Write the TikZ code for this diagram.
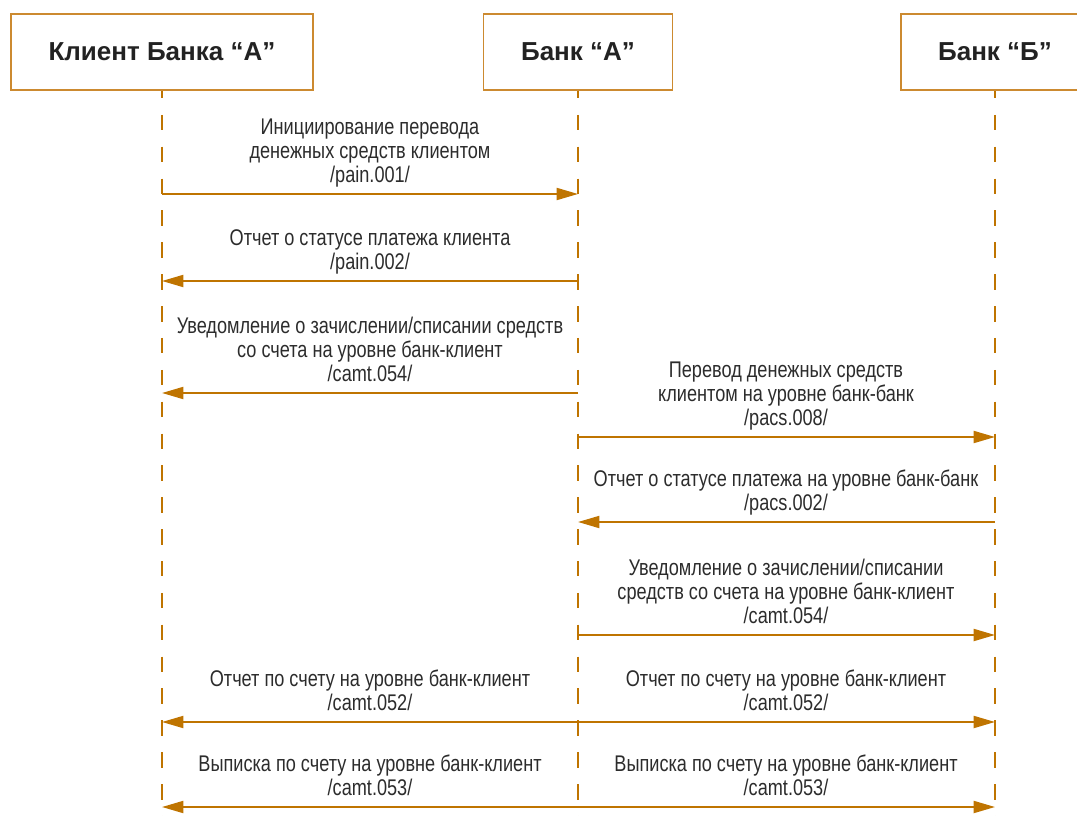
\documentclass[tikz,border=0pt]{standalone}
\usepackage{fontspec}
\setmainfont{Liberation Sans}
\newfontfamily\labfont[FakeStretch=0.8]{Liberation Sans}
\usetikzlibrary{arrows.meta}
\definecolor{ln}{RGB}{191,116,0}
\definecolor{bx}{RGB}{204,138,48}
\definecolor{tx}{RGB}{34,34,34}
\definecolor{lt}{RGB}{44,44,44}
\begin{document}
\begin{tikzpicture}[x=0.75pt,y=-0.75pt,
  box/.style={draw=bx, line width=1.3pt, fill=white, inner sep=0pt, minimum height=57pt,
    font=\fontsize{19.5}{24}\selectfont\bfseries, text=tx},
  life/.style={draw=ln, line width=1.4pt, dash pattern=on 11.6pt off 12.3pt, dash phase=5.9pt},
  msg/.style={draw=ln, line width=1.4pt, -{Triangle[length=16pt,width=9pt]}},
  bimsg/.style={draw=ln, line width=1.4pt, {Triangle[length=16pt,width=9pt]}-{Triangle[length=16pt,width=9pt]}},
  lab/.style={font=\labfont\fontsize{17}{18}\selectfont, text=lt, align=center, anchor=south, inner sep=0pt, text depth=0pt}]
\useasboundingbox (0,0) rectangle (1077,816);
\clip (0,0) rectangle (1077,816);
% headers
\node[box, minimum width=227pt] (ca) at (162,52) {Клиент Банка “А”};
\node[box, minimum width=141.75pt] (ba) at (578,52) {Банк “А”};
\node[box, minimum width=141pt] (bb) at (995,52) {Банк “Б”};
% lifeline ends
\coordinate (bot) at (0,830);
\draw[life] (ca.south) -- (ca.south |- bot);
\draw[life] (ba.south) -- (ba.south |- bot);
\draw[life] (bb.south) -- (bb.south |- bot);
% rows
\coordinate (r1) at (0,194);
\coordinate (r2) at (0,281);
\coordinate (r3) at (0,393);
\coordinate (r4) at (0,437);
\coordinate (r5) at (0,522);
\coordinate (r6) at (0,635);
\coordinate (r7) at (0,722);
\coordinate (r8) at (0,807);
\draw[msg] (ca |- r1) -- (ba |- r1);
\draw[msg] (ba |- r2) -- (ca |- r2);
\draw[msg] (ba |- r3) -- (ca |- r3);
\draw[msg] (ba |- r4) -- (bb |- r4);
\draw[msg] (bb |- r5) -- (ba |- r5);
\draw[msg] (ba |- r6) -- (bb |- r6);
\draw[bimsg] (ca |- r7) -- (bb |- r7);
\draw[bimsg] (ca |- r8) -- (bb |- r8);
% labels
\node[lab] (l1) at (370,183) {Инициирование перевода\\денежных средств клиентом\\/pain.001/};
\node[lab] (l2) at (370,270) {Отчет о статусе платежа клиента\\/pain.002/};
\node[lab] (l3) at (370,382) {Уведомление о зачислении/списании средств\\со счета на уровне банк-клиент\\/camt.054/};
\node[lab] (l4) at (786,426) {Перевод денежных средств\\клиентом на уровне банк-банк\\/pacs.008/};
\node[lab] (l5) at (786,511) {Отчет о статусе платежа на уровне банк-банк\\/pacs.002/};
\node[lab] (l6) at (786,624) {Уведомление о зачислении/списании\\средств со счета на уровне банк-клиент\\/camt.054/};
\node[lab] (l7a) at (370,711) {Отчет по счету на уровне банк-клиент\\/camt.052/};
\node[lab] (l7b) at (786,711) {Отчет по счету на уровне банк-клиент\\/camt.052/};
\node[lab] (l8a) at (370,796) {Выписка по счету на уровне банк-клиент\\/camt.053/};
\node[lab] (l8b) at (786,796) {Выписка по счету на уровне банк-клиент\\/camt.053/};
\end{tikzpicture}
\end{document}
